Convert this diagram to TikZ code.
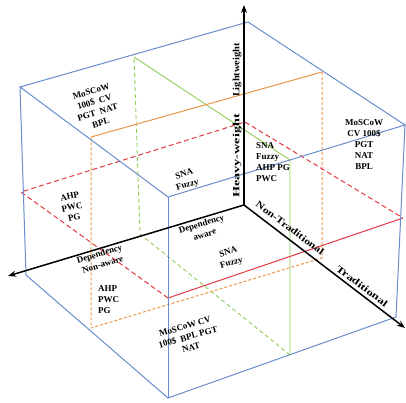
\documentclass[tikz,border=0pt]{standalone}
\usepackage{fontspec}
\setmainfont{Liberation Serif}
\usetikzlibrary{arrows.meta}
\definecolor{cubeblue}{RGB}{105,140,205}
\definecolor{planered}{RGB}{228,55,65}
\definecolor{planeorange}{RGB}{232,150,70}
\definecolor{planegreen}{RGB}{145,205,85}
\begin{document}
\begin{tikzpicture}[x=1pt,y=-1pt,
  cubeline/.style={draw=cubeblue,line width=1pt},
  redline/.style={draw=planered,line width=1pt},
  orangeline/.style={draw=planeorange,line width=1pt},
  greenline/.style={draw=planegreen,line width=0.9pt},
  dashr/.style={dash pattern=on 5pt off 3pt},
  dasho/.style={dash pattern=on 3pt off 2pt},
  dashg/.style={dash pattern=on 4pt off 3pt},
  axisline/.style={draw=black,line width=1.5pt,-{Stealth[length=8pt,width=6pt]}},
  lbl/.style={font=\fontsize{9}{11}\selectfont\bfseries,align=center,inner sep=0pt},
  axlbl/.style={font=\fontsize{9.5}{11}\selectfont\bfseries,inner sep=0pt}]
\useasboundingbox (0,0) rectangle (406,403);
% cube corners
\coordinate (A) at (20,87);
\coordinate (B) at (248,22);
\coordinate (C) at (405,125);
\coordinate (D) at (168,197);
\coordinate (E) at (26,275);
\coordinate (F) at (168,398);
\coordinate (G) at (396,317);
% red mid plane
\coordinate (R1) at (21,192);
\coordinate (R2) at (245,122);
\coordinate (R3) at (403,218);
\coordinate (R4) at (168,298);
% orange plane
\coordinate (O1) at (91,137);
\coordinate (O2) at (322,72);
\coordinate (O3) at (322,258);
\coordinate (O4) at (91,328);
% green plane
\coordinate (G1) at (134,57);
\coordinate (G2) at (290,160);
\coordinate (G3) at (290,355);
\coordinate (G4) at (140,234);
% axes
\coordinate (O) at (244,205);
\coordinate (Up) at (244,5);
\coordinate (Lf) at (8,276);
\coordinate (Rt) at (405,328);

\draw[greenline] (G1) -- (G2) -- (G3);
\draw[greenline,dashg] (G3) -- (G4) -- (G1);
\draw[orangeline] (O1) -- (O2);
\draw[orangeline,dasho] (O2) -- (O3) -- (O4) -- (O1);
\draw[redline,dashr] (R4) -- (R1) -- (R2) -- (R3);
\draw[redline] (R3) -- (R4);
\draw[cubeline] (A) -- (B) -- (C) -- (D) -- cycle;
\draw[cubeline] (A) -- (E) -- (F) -- (G) -- (C);
\draw[cubeline] (D) -- (F);

\draw[axisline] (O) -- (Up);
\draw[axisline] (O) -- (Lf);
\draw[axisline] (O) -- (Rt);

% axis labels
\node[axlbl,rotate=90] (lw) at (237,70) {\scalebox{1.1}[1]{Lightweight}};
\node[axlbl,rotate=90] (hw) at (237,156) {\scalebox{1.5}[1]{Heavy-weight}};
\node[axlbl,rotate=-37] (nt) at (290,228) {\scalebox{1.25}[1]{Non-Traditional}};
\node[axlbl,rotate=-37] (tr) at (362,286) {\scalebox{1.35}[1]{Traditional}};

% region texts
\node[lbl,rotate=17] (t1) at (96,107) {MoSCoW\\100\$\ \ CV\\PGT\ \ NAT\\BPL};
\node[lbl] (t2) at (364,145) {MoSCoW\\CV 100\$\\PGT\\NAT\\BPL};
\node[lbl,rotate=17] (t3) at (186,180) {SNA\\Fuzzy};
\node[lbl,align=left,anchor=west] (t4) at (256,162) {SNA\\Fuzzy\\AHP PG\\PWC};
\node[lbl,rotate=12] (t5) at (72,207) {AHP\\PWC\\PG};
\node[lbl,rotate=17] (t6) at (101,259) {Dependency\\Non-aware};
\node[lbl,align=left,anchor=west] (t7) at (98,300) {AHP\\PWC\\PG};
\node[lbl,rotate=17] (t8) at (203,229) {Dependency\\aware};
\node[lbl,rotate=17] (t9) at (230,258) {SNA\\Fuzzy};
\node[lbl,rotate=16] (t10) at (188,337) {MoSCoW CV\\100\$\ \ BPL PGT\\NAT};
\end{tikzpicture}
\end{document}
